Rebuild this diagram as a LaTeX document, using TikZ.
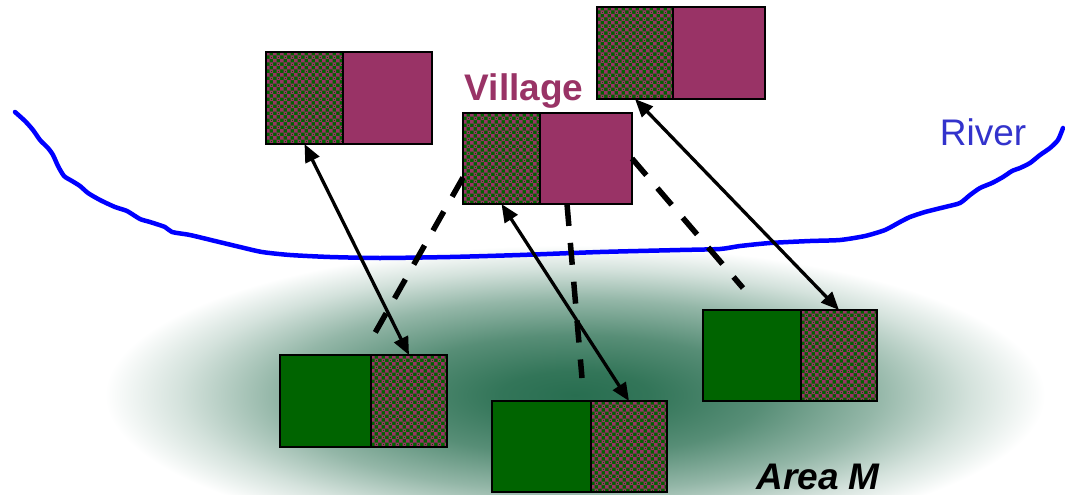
\documentclass[tikz,border=0pt]{standalone}
\usepackage{fontspec}
\setmainfont{Liberation Sans}
\usetikzlibrary{arrows.meta,calc}
\definecolor{vpurple}{RGB}{153,51,102}
\definecolor{dgreen}{RGB}{0,100,0}
\definecolor{gdark}{RGB}{40,110,80}
\definecolor{rivertext}{RGB}{51,51,204}
\pgfdeclareradialshading{glow}{\pgfpoint{0bp}{0bp}}{color(0bp)=(gdark); color(4bp)=(gdark!95!white); color(10bp)=(gdark!78!white); color(16bp)=(gdark!50!white); color(21bp)=(gdark!20!white); color(25bp)=(white); color(50bp)=(white)}
\tikzset{
 box/.style={draw=black, line width=2.5pt, inner sep=0pt, outer sep=0pt},
 pat/.style={box, fill=dgreen, path picture={%
   \foreach \i in {0,...,11}{\foreach \j in {0,...,13}{%
     \fill[vpurple] ([shift={(\i*7,\j*7)}]path picture bounding box.north west) rectangle +(3.5,3.5)
       ([shift={(\i*7+3.5,\j*7+3.5)}]path picture bounding box.north west) rectangle +(3.5,3.5);
     \fill[dgreen] ([shift={(\i*7+4.5,\j*7+4.6)}]path picture bounding box.north west) rectangle +(1.6,1);
   }}}},
 pur/.style={box, fill=vpurple},
 grn/.style={box, fill=dgreen},
 link/.style={line width=3.3pt, {Triangle[length=18pt,width=15pt]}-{Triangle[length=18pt,width=15pt]}},
 back/.style={line width=5.5pt, dash pattern=on 22pt off 17pt},
 riverline/.style={blue, line width=4.5pt, line join=round, line cap=round},
}
\begin{document}
\begin{tikzpicture}[x=1pt,y=-1pt]
\useasboundingbox (0,0) rectangle (1065,495);
\fill[white] (0,0) rectangle (1065,495);
\begin{scope}
\clip (0,0) rectangle (1065,495);
\shade[shading=glow] (575,395) ellipse [x radius=470, y radius=150];
\end{scope}
% river
\draw[riverline] plot[smooth, tension=0.4] coordinates {(15,112) (25,121) (33,130) (40,140) (48,148) (53,155) (58,166) (64,176) (72,181) (80,186) (88,193) (100,200) (115,207) (127,211) (140,219) (150,222) (165,227) (172,232) (190,235) (215,241) (240,247) (262,252) (290,255) (330,257) (380,258) (450,257) (520,255) (600,252) (680,250) (720,249) (740,246) (770,243) (810,241) (840,240) (865,236) (885,230) (900,222) (910,217) (925,212) (945,207) (960,203) (970,195) (980,188) (992,183) (1003,177) (1012,171) (1020,168) (1030,163) (1040,155) (1050,148) (1058,140) (1063,128)};
% village boxes
\node[pat, minimum width=77pt, minimum height=92pt] (Apat) at (304.5,98) {};
\node[pur, minimum width=89pt, minimum height=92pt] (Apur) at (387.5,98) {};
\node[pat, minimum width=77pt, minimum height=91pt] (Bpat) at (501.5,158.5) {};
\node[pur, minimum width=92pt, minimum height=91pt] (Bpur) at (586,158.5) {};
\node[pat, minimum width=76pt, minimum height=92pt] (Cpat) at (635,53) {};
\node[pur, minimum width=92pt, minimum height=92pt] (Cpur) at (719,53) {};
% area boxes
\node[grn, minimum width=91pt, minimum height=92pt] (Dgrn) at (325.5,401) {};
\node[pat, minimum width=76pt, minimum height=92pt] (Dpat) at (409,401) {};
\node[grn, minimum width=99pt, minimum height=91pt] (Egrn) at (541.5,446.5) {};
\node[pat, minimum width=76pt, minimum height=91pt] (Epat) at (629,446.5) {};
\node[grn, minimum width=98pt, minimum height=91pt] (Fgrn) at (752,355.5) {};
\node[pat, minimum width=76pt, minimum height=91pt] (Fpat) at (839,355.5) {};
% labels
\node[inner sep=0pt, anchor=base, text=vpurple, font=\fontsize{37}{40}\selectfont\bfseries] (village) at (524,100) {Village};
\node[inner sep=0pt, anchor=base, text=rivertext, font=\fontsize{37}{40}\selectfont] (river) at (983,145) {River};
\node[inner sep=0pt, anchor=base, text=black, font=\fontsize{37}{40}\selectfont\bfseries\itshape] (area) at (818,489) {Area M};
% dashed return links
\coordinate (d1s) at ($(Bpat.west)+(0,19)$);
\coordinate (d1e) at ($(Dgrn.north east)+(0,-15)$);
\coordinate (d2s) at ($(Bpur.south west)+(27,0)$);
\coordinate (d2e) at ($(Epat.north west)+(-9,-23)$);
\coordinate (d3s) at (Bpur.east);
\coordinate (d3e) at ($(Fgrn.north)+(-9,-22)$);
\draw[back] (d1s) -- (d1e);
\draw[back] (d2s) -- (d2e);
\draw[back] (d3s) -- (d3e);
% arrows
\draw[link] (Apat.south) -- (Dpat.north);
\draw[link] (Bpat.south) -- (Epat.north);
\draw[link] (Cpat.south) -- (Fpat.north);
\end{tikzpicture}
\end{document}
